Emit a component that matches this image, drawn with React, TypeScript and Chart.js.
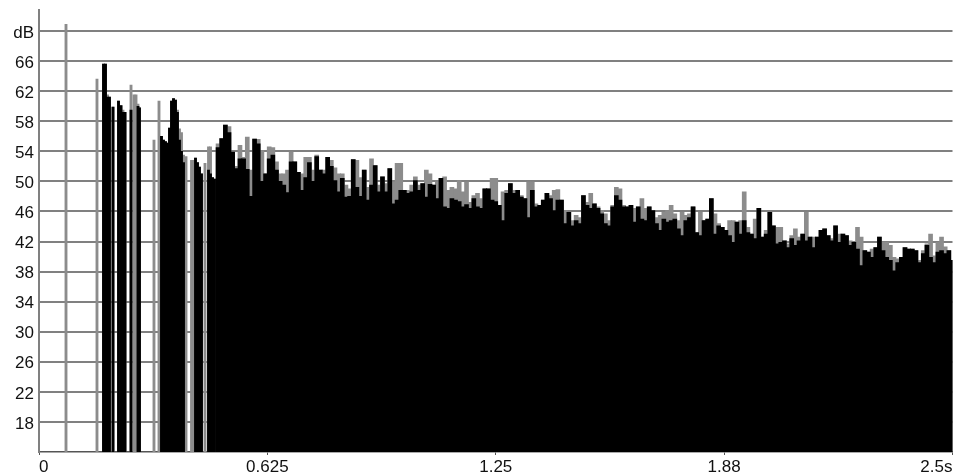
import React, { useEffect, useRef } from "react";
import { Chart, registerables } from "chart.js";

Chart.register(...registerables);

// X axis ticks (seconds)
const xTickValues = [0, 0.625, 1.25, 1.875, 2.5];
const xTickLabels = ["0", "0.625", "1.25", "1.88", "2.5s"];
// Y axis ticks (dB)
const yTickValues = [18, 22, 26, 30, 34, 38, 42, 46, 50, 54, 58, 62, 66, 70];

// Early sparse reflections
const earlyTimes = [
  0.0739, 0.1587, 0.1765, 0.182, 0.1875, 0.1929, 0.2025, 0.2176, 0.2244, 0.2299, 0.2354,
  0.2518, 0.26, 0.2655, 0.2709, 0.275, 0.3147, 0.3284, 0.3352, 0.3407, 0.3462, 0.3517,
  0.3571, 0.3626, 0.3681, 0.3736, 0.379, 0.3845, 0.39, 0.3955, 0.4023, 0.4174, 0.4228,
  0.4283, 0.4338, 0.4392, 0.4447, 0.4543, 0.4639, 0.4694, 0.4748, 0.4803,
];
const earlyPeak = [
  70.9, 63.6, 65.6, 65.6, 61.5, 61.2, 59.9, 60.7, 60.1, 59.5, 59.2,
  62.8, 61.5, 61.5, 60.3, 59.8, 55.5, 60.7, 56.0, 55.5, 55.3, 55.1,
  57.1, 60.7, 61.0, 60.8, 59.5, 57.0, 56.5, 53.5, 53.3, 52.8, 52.8,
  53.1, 52.5, 51.9, 51.0, 52.4, 54.6, 54.6, 50.5, 50.3,
];
const earlyLevel = [
  null, null, 65.6, 65.6, 61.2, 61.2, 59.9, 60.7, 60.1, 59.2, 59.2,
  59.5, null, null, 60.0, 59.8, null, null, 56.0, 55.5, 55.3, 55.1,
  57.1, 60.7, 61.0, 60.8, 59.2, 55.5, 54.0, 52.5, null, null, null,
  53.1, 52.5, 51.9, 51.0, null, 51.5, 51.0, 50.5, 50.3,
];

// Dense reverberant tail: bins of 0.01 s starting at 0.49 s
const denseStart = 0.49;
const denseStep = 0.01;
const densePeak = [
  55, 55.7, 57.5, 57.3, 54, 52, 54.8, 53.2, 55.9, 51.5, 55.7, 55.6, 54.1, 51, 54.6, 54.5, 52.6, 51, 51, 51.5,
  53.9, 52.6, 51.2, 51, 53.2, 53.2, 51.5, 53.5, 51.5, 51.5, 53.2, 52.8, 51.8, 51, 51, 49.5, 49,
  52.9, 52.8, 50.5, 51.5, 49.2, 53.0, 52.1, 49.5, 50.6, 49.7, 51.7, 49.9, 52.4, 52.4, 48.8, 48.8, 49.5, 50.6,
  49.5, 49.7, 51.5, 51.0, 49.5, 49.9, 50.4, 50.6, 48.8, 49.2, 49.0, 50.1, 48.6, 49.9, 47.2, 48.1, 48.4, 47.7,
  49.0, 49.0, 50.4, 50.4, 46.8, 48.6, 48.8,
  49.7, 48.8, 48.8, 48.1, 47.7, 49.9, 49.9, 47.0, 46.8, 47.5, 48.4, 48.1, 48.8, 48.9, 47.5, 46.1, 45.9, 44.8,
  45.5, 45.2, 48.1, 47.2, 48.4, 47.0, 46.6, 46.1, 45.7, 44.8, 46.8, 49.2, 49.0, 46.8, 46.6, 46.8, 46.4, 46.6,
  47.7, 46.4, 46.6, 46.1, 45.2, 45.5, 45.9, 46.1,
  46.8, 45.7, 44.8, 45.9, 45.5, 45.7, 46.6, 43.2, 45.9, 44.8, 45.0, 47.7, 45.7, 44.4, 43.9, 43.5, 44.8, 44.8,
  44.6, 44.8, 48.6, 43.9, 43.0, 45.0, 46.4, 42.6, 43.5, 45.9, 44.1, 43.9, 43.9, 42.1, 41.7, 42.8, 43.7, 42.6,
  43.0, 45.9, 42.6, 42.6, 42.6, 43.5, 43.7, 42.8,
  42.4, 44.1, 43.0, 43.0, 42.8, 42.1, 41.9, 43.9, 42.6, 40.8, 40.6, 41.0, 41.2, 42.6, 41.9, 41.9, 41.5, 39.9,
  39.7, 39.9, 41.2, 41.0, 41.0, 40.8, 39.5, 40.8, 41.7, 43.0, 40.1, 41.9, 42.6, 41.3, 40.8, 39.5,
];
const denseLevel = [
  54.5, 55.7, 57.5, 56.5, 53.9, 51.7, 53, 53, 51.6, 48, 55.6, 55, 50, 51, 53, 53.5, 51.5, 50, 49.5, 48.5,
  52.6, 52.6, 51.2, 48.8, 50.5, 52.5, 50, 53.3, 51.5, 51, 53.2, 52, 50.1, 48.6, 50.4, 47.9, 48,
  52.9, 49.2, 48.0, 51.5, 47.5, 49.5, 52.1, 48.6, 50.6, 48.6, 51.7, 47.0, 47.5, 48.8, 48.8, 48.4, 48.6, 50.1,
  48.8, 49.7, 47.9, 49.6, 49.5, 47.7, 50.4, 46.6, 46.4, 47.7, 47.5, 47.3, 46.6, 46.9, 46.4, 47.7, 46.6, 46.4,
  49.0, 49.0, 47.5, 47.3, 46.8, 44.8, 48.4,
  49.7, 48.4, 48.8, 47.9, 47.7, 45.2, 48.8, 46.6, 46.8, 47.5, 48.4, 47.7, 46.1, 47.5, 47.5, 44.4, 45.9, 44.1,
  44.8, 44.4, 48.1, 46.8, 46.4, 47.0, 46.4, 45.7, 44.4, 44.1, 46.6, 48.1, 47.5, 46.6, 46.6, 46.8, 44.6, 46.6,
  45.0, 44.8, 46.6, 46.1, 44.4, 43.5, 45.0, 44.6,
  44.8, 45.0, 43.7, 42.8, 44.8, 45.2, 46.6, 43.2, 42.8, 44.8, 45.0, 47.7, 43.0, 44.1, 43.9, 43.5, 42.8, 41.9,
  44.6, 43.0, 44.8, 43.2, 43.0, 42.4, 46.4, 42.6, 43.0, 45.9, 44.1, 41.7, 41.9, 42.1, 41.2, 42.4, 41.5, 42.1,
  43.0, 42.1, 42.6, 41.2, 42.6, 43.5, 43.7, 42.8,
  42.1, 44.1, 41.9, 43.0, 42.8, 41.5, 41.9, 41.0, 38.8, 40.8, 40.6, 39.9, 41.2, 42.6, 40.8, 39.9, 39.5, 38.1,
  39.2, 39.9, 41.2, 41.0, 41.0, 40.8, 39.2, 40.4, 41.5, 39.9, 39.2, 40.6, 40.8, 40.4, 40.8, 39.5,
];

const FONT = "'Liberation Sans', Arial, sans-serif";

export default function App() {
  const ref = useRef<HTMLCanvasElement | null>(null);

  useEffect(() => {
    if (!ref.current) return;
    const densePts = (arr: number[]) =>
      arr.map((v, i) => ({ x: +(denseStart + i * denseStep).toFixed(3), y: v }));
    const earlyPts = (arr: (number | null)[]) =>
      earlyTimes.map((t, i) => ({ x: t, y: arr[i] }));

    const chart = new Chart(ref.current, {
      type: "bar",
      data: {
        datasets: [
          {
            label: "level",
            data: densePts(denseLevel),
            backgroundColor: "#000000",
            barThickness: 4,
            grouped: false,
            borderWidth: 0,
          },
          {
            label: "early level",
            data: earlyPts(earlyLevel) as any,
            backgroundColor: "#000000",
            barThickness: 2.2,
            grouped: false,
            borderWidth: 0,
          },
          {
            label: "peak",
            data: densePts(densePeak),
            backgroundColor: "#8c8c8c",
            barThickness: 4,
            grouped: false,
            borderWidth: 0,
          },
          {
            label: "early peak",
            data: earlyPts(earlyPeak) as any,
            backgroundColor: "#8c8c8c",
            barThickness: 2.2,
            grouped: false,
            borderWidth: 0,
          },
        ],
      },
      options: {
        responsive: false,
        animation: false,
        devicePixelRatio: 1,
        layout: { padding: { left: 0, right: 8.5, top: 10, bottom: 0 } },
        plugins: { legend: { display: false }, tooltip: { enabled: false } },
        scales: {
          x: {
            type: "linear",
            min: 0,
            max: 2.5,
            offset: false,
            afterBuildTicks: (scale: any) => {
              scale.ticks = xTickValues.map((v) => ({ value: v }));
            },
            afterFit: (scale: any) => {
              scale.height = 23;
              scale.paddingLeft = 0;
              scale.paddingRight = 0;
            },
            ticks: {
              autoSkip: false,
              maxRotation: 0,
              align: "inner",
              padding: 2,
              color: "#111",
              font: { family: FONT, size: 17 },
              callback: (v: any) => {
                const i = xTickValues.indexOf(Number(v));
                return i >= 0 ? xTickLabels[i] : "";
              },
            },
            grid: {
              offset: false,
              drawOnChartArea: false,
              drawTicks: true,
              tickLength: 3,
              color: "#555",
            },
            border: { display: true, color: "#555", width: 1.5 },
          },
          y: {
            type: "linear",
            min: 14,
            max: 72.8,
            afterBuildTicks: (scale: any) => {
              scale.ticks = yTickValues.map((v) => ({ value: v }));
            },
            afterFit: (scale: any) => {
              scale.width = 39;
              scale.paddingTop = 0;
              scale.paddingBottom = 0;
            },
            ticks: {
              padding: 5,
              labelOffset: 2,
              color: "#111",
              font: { family: FONT, size: 17 },
              callback: (v: any) => (Number(v) === 70 ? "dB" : String(v)),
            },
            grid: {
              drawTicks: false,
              color: "#808080",
              lineWidth: 2,
            },
            border: { display: true, color: "#808080", width: 2 },
          },
        },
      },
    });
    return () => chart.destroy();
  }, []);

  return (
    <div
      style={{
        position: "fixed",
        left: 0,
        top: 0,
        width: 961,
        height: 475,
        background: "#ffffff",
      }}
    >
      <canvas ref={ref} width={961} height={475} style={{ display: "block" }} />
    </div>
  );
}
